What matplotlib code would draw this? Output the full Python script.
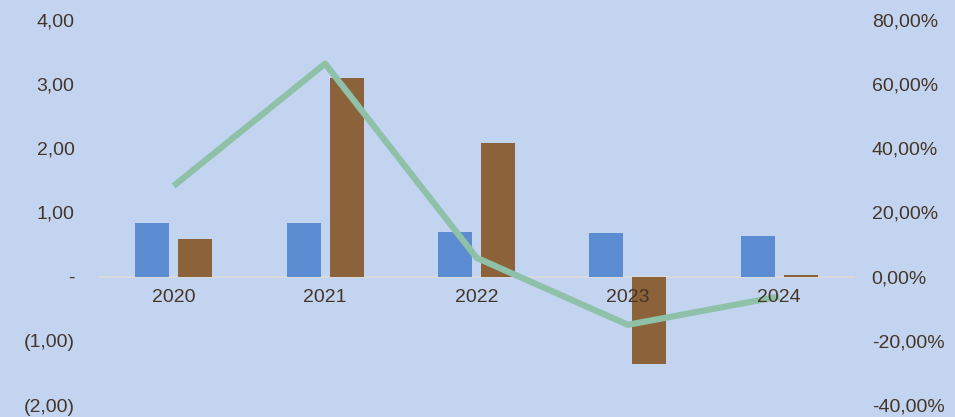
import numpy as np
import matplotlib
matplotlib.use("Agg")
import matplotlib.pyplot as plt
from matplotlib.ticker import FuncFormatter

years = ["2020", "2021", "2022", "2023", "2024"]
serie_azul = [0.84, 0.83, 0.69, 0.68, 0.64]
serie_marron = [0.59, 3.10, 2.09, -1.36, 0.03]
variacao = [28.3, 66.4, 5.9, -15.0, -6.2]  # %

bg = "#C2D4F0"
txt = "#45362A"
plt.rcParams["font.family"] = ["Liberation Sans", "DejaVu Sans"]

fig = plt.figure(figsize=(9.55, 4.17), dpi=100, facecolor=bg)
ax = fig.add_axes([98 / 955, 1 - 405 / 417, 757 / 955, 385 / 417])
ax.set_facecolor(bg)

x = np.arange(len(years))
w = 0.225
ax.bar(x - 0.142, serie_azul, w, color="#5B8BD0", zorder=2)
ax.bar(x + 0.142, serie_marron, w, color="#8B6239", zorder=2)
ax.axhline(0, color="#D9D9D9", lw=1.5, zorder=1)

ax.set_xlim(-0.5, 4.5)
ax.set_ylim(-2, 4)
ax.set_yticks(range(-2, 5))


def fmt_left(v, pos):
    if abs(v) < 1e-9:
        return "-"
    s = f"{abs(v):.2f}".replace(".", ",")
    return f"({s})" if v < 0 else s


ax.yaxis.set_major_formatter(FuncFormatter(fmt_left))
ax.tick_params(axis="y", length=0, pad=17, labelsize=14, labelcolor=txt)
ax.set_xticks([])
for sp in ax.spines.values():
    sp.set_visible(False)

ax2 = ax.twinx()
ax2.plot(x, variacao, color="#8FC1A9", lw=4.5, solid_capstyle="butt", zorder=3)
ax2.set_ylim(-40, 80)
ax2.set_yticks(range(-40, 81, 20))
ax2.yaxis.set_major_formatter(FuncFormatter(lambda v, p: f"{v:.2f}".replace(".", ",") + "%"))
ax2.tick_params(axis="y", length=0, pad=12, labelsize=14, labelcolor=txt)
for sp in ax2.spines.values():
    sp.set_visible(False)

# category labels sit just under the zero line, drawn above the line series
for xi, lab in zip(x, years):
    ax2.text(xi, -0.33, lab, transform=ax.transData, ha="center", va="center",
             fontsize=14, color=txt, zorder=5)

fig.savefig("out.png", dpi=100, facecolor=bg)
